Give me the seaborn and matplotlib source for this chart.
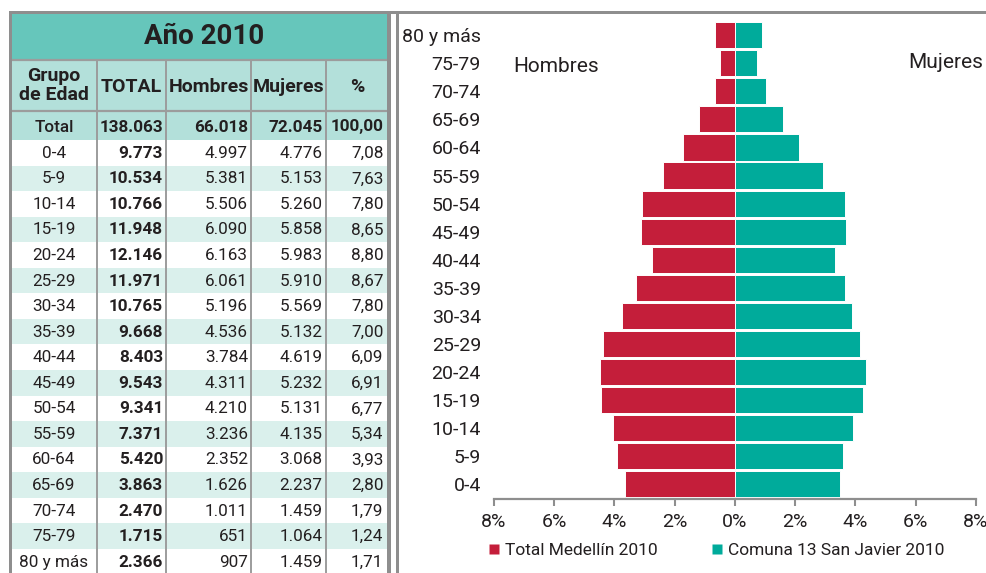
import matplotlib
matplotlib.use("Agg")
import matplotlib.pyplot as plt
from matplotlib.patches import Rectangle
from matplotlib.lines import Line2D
import numpy as np
import pandas as pd
import seaborn as sns

# ---------------- data ----------------
groups = ['0-4', '5-9', '10-14', '15-19', '20-24', '25-29', '30-34', '35-39',
          '40-44', '45-49', '50-54', '55-59', '60-64', '65-69', '70-74', '75-79', '80 y más']
total = [9773, 10534, 10766, 11948, 12146, 11971, 10765, 9668, 8403, 9543,
         9341, 7371, 5420, 3863, 2470, 1715, 2366]
hombres = [4997, 5381, 5506, 6090, 6163, 6061, 5196, 4536, 3784, 4311,
           4210, 3236, 2352, 1626, 1011, 651, 907]
mujeres = [4776, 5153, 5260, 5858, 5983, 5910, 5569, 5132, 4619, 5232,
           5131, 4135, 3068, 2237, 1459, 1064, 1459]
pct = [7.08, 7.63, 7.80, 8.65, 8.80, 8.67, 7.80, 7.00, 6.09, 6.91,
       6.77, 5.34, 3.93, 2.80, 1.79, 1.24, 1.71]
tot_total, tot_h, tot_m, tot_pct = 138063, 66018, 72045, 100.00

# pyramid bar values (%), same order as groups (0-4 ... 80 y más)
pyr_left = [3.66, 3.91, 4.06, 4.45, 4.48, 4.39, 3.74, 3.28, 2.77, 3.12,
            3.08, 2.39, 1.73, 1.18, 0.65, 0.49, 0.68]
pyr_right = [3.49, 3.57, 3.91, 4.24, 4.36, 4.14, 3.90, 3.64, 3.31, 3.70,
             3.66, 2.93, 2.14, 1.58, 1.04, 0.73, 0.89]
xticks = [-8, -6, -4, -2, 0, 2, 4, 6, 8]
legend_labels = ['Total Medellín 2010', 'Comuna 13 San Javier 2010']

# ---------------- style ----------------
sns.set_theme(style="white")
plt.rcParams['font.family'] = ['Roboto', 'DejaVu Sans']
TXT = '#231F20'
RED = '#C41E3A'
TEAL = '#00AB9B'
GRAY = '#8E8E8E'
LGRAY = '#9C9C9C'
TITLE_BG = '#66C6BB'
HEAD_BG = '#B3E0DA'
ALT_BG = '#DAF0EC'

W, H = 987, 573
fig = plt.figure(figsize=(W / 100, H / 100), dpi=100)
fig.patch.set_facecolor('white')

# overlay axes in pixel coordinates for the table and frame lines
ov = fig.add_axes([0, 0, 1, 1], zorder=0)
ov.set_xlim(0, W)
ov.set_ylim(H, 0)
ov.axis('off')


def rect(x0, y0, x1, y1, color, z=1):
    ov.add_patch(Rectangle((x0, y0), x1 - x0, y1 - y0, facecolor=color,
                           edgecolor='none', zorder=z))


def fmt_int(n):
    return f"{n:,}".replace(',', '.')


def fmt_pct(p):
    return f"{p:.2f}".replace('.', ',')


# table geometry
TL, TR = 12, 387.5
col_sep = [96.7, 166, 251, 325.7]
title_y0, title_y1 = 14, 59.5
head_y0, head_y1 = 61, 110.5
tot_y0, tot_y1 = 112, 140
row_h = 25.56

rect(TL, title_y0, TR, title_y1, TITLE_BG)
rect(TL, head_y0, TR, head_y1, HEAD_BG)
rect(TL, tot_y0, TR, tot_y1, HEAD_BG)
for i in range(len(groups)):
    y0 = tot_y1 + i * row_h
    rect(TL, y0, TR, y0 + row_h, 'white' if i % 2 == 0 else ALT_BG)

# grid lines
ov.plot([TL, TR], [60.2, 60.2], color=LGRAY, lw=1.6, zorder=3, solid_capstyle='butt')
ov.plot([TL, TR], [111.3, 111.3], color=LGRAY, lw=1.6, zorder=3, solid_capstyle='butt')
for xs in col_sep:
    ov.plot([xs, xs], [head_y0 - 1, H], color=LGRAY, lw=1.4, zorder=3, solid_capstyle='butt')

# outer frame lines
rect(9, 11, W, 14.3, GRAY, z=4)
rect(9, 11, 12.3, H, GRAY, z=4)
rect(387.3, 11, 390.7, H, GRAY, z=4)
rect(396, 11, 399.3, H, GRAY, z=4)

# title
ov.text((TL + TR) / 2 + 4, 37, 'Año 2010', ha='center', va='center',
        fontsize=20, fontweight='bold', color=TXT, zorder=5)

# headers
hy = (head_y0 + head_y1) / 2
hfs = 14
ov.text(54, hy, 'Grupo\nde Edad', ha='center', va='center', fontsize=hfs,
        fontweight='bold', color=TXT, linespacing=1.1, zorder=5)
ov.text(131.5, hy + 1.5, 'TOTAL', ha='center', va='center', fontsize=hfs,
        fontweight='bold', color=TXT, zorder=5)
ov.text(208.5, hy + 1.5, 'Hombres', ha='center', va='center', fontsize=hfs,
        fontweight='bold', color=TXT, zorder=5)
ov.text(288.5, hy + 1.5, 'Mujeres', ha='center', va='center', fontsize=hfs,
        fontweight='bold', color=TXT, zorder=5)
ov.text(357, hy + 1.5, '%', ha='center', va='center', fontsize=hfs,
        fontweight='bold', color=TXT, zorder=5)

# right edges for numbers
rx = [163, 248, 322.5, 383.5]
dfs = 12.3

ty = (tot_y0 + tot_y1) / 2 + 1
ov.text(54, ty, 'Total', ha='center', va='center', fontsize=dfs,
        fontweight='medium', color=TXT, zorder=5)
for x, s in zip(rx, [fmt_int(tot_total), fmt_int(tot_h), fmt_int(tot_m), fmt_pct(tot_pct)]):
    ov.text(x, ty, s, ha='right', va='center', fontsize=dfs, fontweight='bold',
            color=TXT, zorder=5)

for i, g in enumerate(groups):
    cy = tot_y1 + (i + 0.5) * row_h + 0.5
    ov.text(54, cy, g, ha='center', va='center', fontsize=dfs, color=TXT, zorder=5)
    ov.text(rx[0], cy, fmt_int(total[i]), ha='right', va='center', fontsize=dfs,
            fontweight='bold', color=TXT, zorder=5)
    ov.text(rx[1], cy, fmt_int(hombres[i]), ha='right', va='center', fontsize=dfs,
            color=TXT, zorder=5)
    ov.text(rx[2], cy, fmt_int(mujeres[i]), ha='right', va='center', fontsize=dfs,
            color=TXT, zorder=5)
    ov.text(rx[3], cy, fmt_pct(pct[i]), ha='right', va='center', fontsize=dfs,
            color=TXT, zorder=5)

# ---------------- pyramid ----------------
ax_l, ax_r = 494, 976
ax_top, ax_bot = 20, 499
ax = fig.add_axes([ax_l / W, 1 - ax_bot / H, (ax_r - ax_l) / W, (ax_bot - ax_top) / H],
                  zorder=2)
ax.patch.set_alpha(0)

order = groups[::-1]
df = pd.DataFrame({'grupo': groups,
                   'left': [-v for v in pyr_left],
                   'right': pyr_right})
sns.barplot(data=df, x='left', y='grupo', order=order, orient='h', color=RED,
            saturation=1, width=0.93, edgecolor='white', linewidth=0.7, ax=ax)
sns.barplot(data=df, x='right', y='grupo', order=order, orient='h', color=TEAL,
            saturation=1, width=0.93, edgecolor='white', linewidth=0.7, ax=ax)

n = len(groups)
ax.set_xlim(-8, 8)
ax.set_ylim(n - 1 + 0.535, -0.546)
ax.set_xticks(xticks)
ax.set_xticklabels([f"{abs(t)}%" for t in xticks])
ax.set_xlabel('')
ax.set_ylabel('')
for s in ['top', 'right', 'left']:
    ax.spines[s].set_visible(False)
ax.spines['bottom'].set_color(GRAY)
ax.spines['bottom'].set_linewidth(1.6)
ax.tick_params(axis='x', which='major', bottom=True, length=5, width=1.5,
               color=GRAY, pad=5, labelsize=14, labelcolor=TXT, direction='out')
ax.tick_params(axis='y', left=False, length=0, pad=9.4, labelsize=14, labelcolor=TXT)

# Hombres / Mujeres labels
ov.text(513, 66, 'Hombres', ha='left', va='center', fontsize=15, color=TXT, zorder=5)
ov.text(983, 62, 'Mujeres', ha='right', va='center', fontsize=15, color=TXT, zorder=5)

# legend
handles = [Line2D([], [], marker='s', linestyle='none', markersize=7.5,
                  markerfacecolor=RED, markeredgecolor='none'),
           Line2D([], [], marker='s', linestyle='none', markersize=7.5,
                  markerfacecolor=TEAL, markeredgecolor='none')]
fig.legend(handles, legend_labels, loc='center left',
           bbox_to_anchor=(487 / W, 1 - 550 / H), ncol=2, frameon=False,
           fontsize=12.5, handlelength=0.8, handletextpad=0.25,
           columnspacing=3.0, borderpad=0, borderaxespad=0,
           labelcolor=TXT)

fig.savefig('out.png', dpi=100, facecolor='white')
